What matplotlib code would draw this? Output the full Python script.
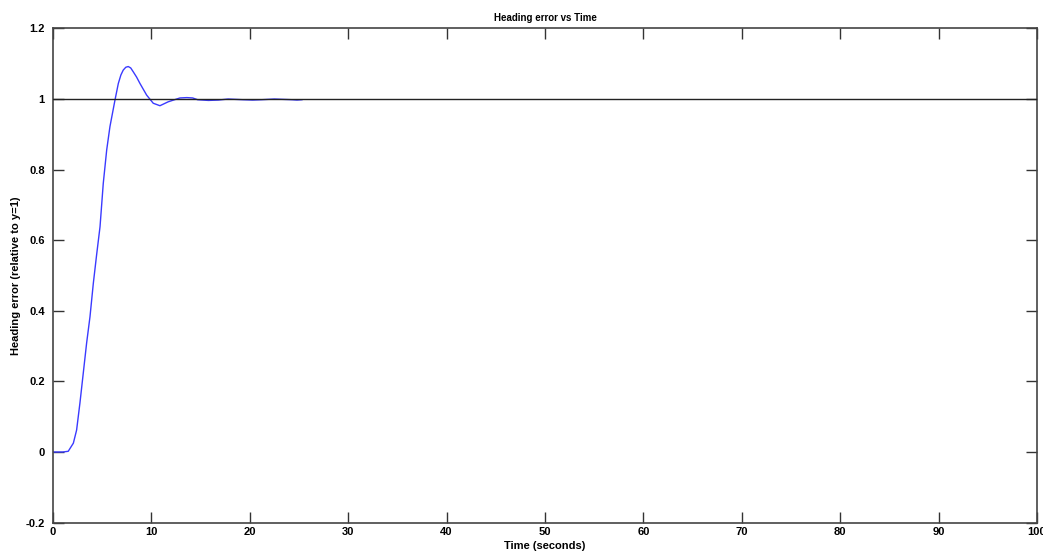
import numpy as np
import matplotlib
matplotlib.use("Agg")
import matplotlib.pyplot as plt

# heading error step response
t = [0, 1.0, 1.55, 2.07, 2.4, 2.74, 3.08, 3.42, 3.76, 4.1, 4.44, 4.78, 5.11,
     5.46, 5.79, 6.3, 6.64, 6.9, 7.14, 7.4, 7.65, 7.9, 8.16, 8.5, 8.84, 9.52,
     10.19, 10.87, 11.7, 12.9, 13.6, 14.2, 14.7, 15.8, 16.8, 17.8, 19.3,
     20.3, 21.2, 22.5, 24.3, 24.8, 25.3]
err = [0, 0, 0.002, 0.025, 0.062, 0.139, 0.224, 0.309, 0.383, 0.478, 0.56,
       0.638, 0.761, 0.856, 0.922, 0.997, 1.044, 1.068, 1.082, 1.090, 1.092,
       1.088, 1.077, 1.062, 1.044, 1.011, 0.988, 0.981, 0.992, 1.003, 1.004,
       1.003, 0.998, 0.996, 0.997, 1.0, 0.998, 0.997, 0.998, 1.0, 0.998,
       0.997, 0.998]

xticks = np.arange(0, 101, 10)
yticks = [-0.2, 0, 0.2, 0.4, 0.6, 0.8, 1, 1.2]
yticklabels = ['-0.2', '0', '0.2', '0.4', '0.6', '0.8', '1', '1.2']

plt.rcParams['font.family'] = ['Liberation Sans', 'DejaVu Sans']

fig = plt.figure(figsize=(10.43, 5.54), dpi=100)
ax = fig.add_axes([0.0508, 0.0567, 0.9434, 0.892])

ax.plot(t, err, color='#3a3aff', lw=1.0, zorder=2)
ax.axhline(1, color='#222222', lw=1.0, zorder=3)

ax.set_xlim(0, 100)
ax.set_ylim(-0.2, 1.2)
ax.set_xticks(xticks)
ax.set_xticklabels([str(v) for v in xticks], fontweight='bold', fontsize=8)
ax.set_yticks(yticks)
ax.set_yticklabels(yticklabels, fontweight='bold', fontsize=8)
ax.tick_params(axis='y', pad=6)
ax.tick_params(axis='x', pad=3)
ax.tick_params(direction='in', length=8, width=1, top=True, right=True,
               color='#333333')
for s in ax.spines.values():
    s.set_color('#444444')
    s.set_linewidth(1.2)

ax.set_title('Heading error vs Time', fontsize=7, fontweight='bold', pad=5)
ax.set_xlabel('Time (seconds)', fontsize=8, fontweight='bold', labelpad=3)
ax.set_ylabel('Heading error (relative to y=1)', fontsize=8,
              fontweight='bold')
ax.yaxis.set_label_coords(-0.032, 0.5)

fig.savefig('out.png', dpi=100)
